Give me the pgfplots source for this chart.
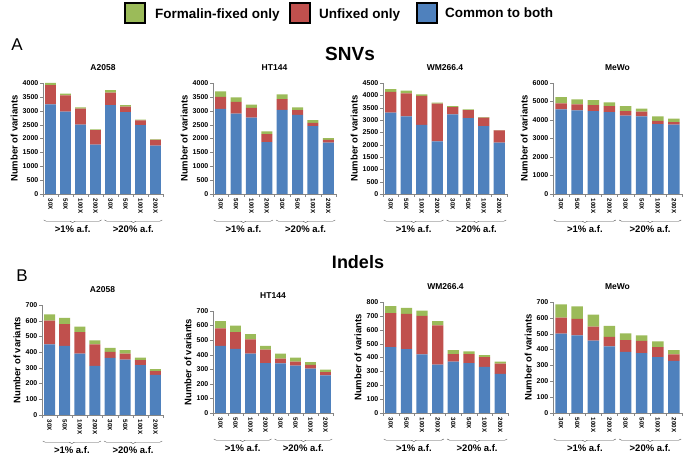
\documentclass[border=0pt]{standalone}
\usepackage{fontspec}
\setmainfont{Liberation Sans}
\usepackage{pgfplots}
\usepackage{pgfplotstable}
\pgfplotsset{compat=1.18}
\usetikzlibrary{decorations.pathreplacing}
\definecolor{cBlue}{HTML}{4F81BD}
\definecolor{cRed}{HTML}{C0504D}
\definecolor{cGreen}{HTML}{9BBB59}
\definecolor{axgray}{HTML}{868686}

% columns: x, common (blue), unfixed only (red), formalin-fixed only (green)
\pgfplotstableread{
x b r g
0 3230 690 80
1 2970 580 70
2 2500 580 40
3 1780 520 30
4 3200 450 90
5 2950 200 50
6 2480 170 30
7 1740 210 20
}\snvA
\pgfplotstableread{
x b r g
0 3070 430 200
1 2900 420 160
2 2750 350 120
3 1870 290 100
4 3030 390 170
5 2850 170 100
6 2450 110 100
7 1850 100 60
}\snvB
\pgfplotstableread{
x b r g
0 3300 840 110
1 3150 930 110
2 2800 1180 60
3 2130 1530 40
4 3230 290 40
5 3080 320 30
6 2750 350 20
7 2080 500 10
}\snvC
\pgfplotstableread{
x b r g
0 4570 330 330
1 4520 330 270
2 4480 320 280
3 4420 330 200
4 4230 250 270
5 4200 250 170
6 3780 170 250
7 3750 130 200
}\snvD
\pgfplotstableread{
x b r g
0 450 150 40
1 440 138 40
2 390 138 35
3 312 138 25
4 363 39 25
5 352 38 23
6 318 32 15
7 255 25 12
}\indA
\pgfplotstableread{
x b r g
0 460 120 50
1 440 115 45
2 408 97 37
3 342 93 25
4 340 33 35
5 325 28 27
6 305 25 20
7 258 22 18
}\indB
\pgfplotstableread{
x b r g
0 475 245 50
1 460 255 43
2 422 278 37
3 348 284 31
4 370 55 28
5 360 65 20
6 332 70 16
7 282 73 15
}\indC
\pgfplotstableread{
x b r g
0 500 102 83
1 490 103 79
2 457 88 75
3 420 60 70
4 385 75 42
5 378 77 35
6 352 63 37
7 328 42 27
}\indD

\newcommand{\grpfont}{\fontsize{9.5}{11}\selectfont\bfseries}

\pgfplotsset{panel/.style={
  scale only axis, anchor=south west,
  ybar stacked, bar width=0.72,
  xmin=-0.5, xmax=7.5, ymin=0,
  xtick={0,...,7}, xticklabels={30X,50X,100X,200X,30X,50X,100X,200X},
  minor xtick={-0.5,0.5,...,7.5},
  major x tick style={draw=none},
  minor tick length=3pt, major tick length=3pt,
  tick align=outside,
  axis x line*=bottom, axis y line*=left,
  axis line style={axgray},
  every tick/.append style={axgray},
  x tick label style={rotate=-90, anchor=west, font=\fontsize{6.2}{7}\selectfont\bfseries, inner sep=1.5pt},
  y tick label style={font=\fontsize{7}{8}\selectfont\bfseries, inner sep=1.5pt},
  /pgf/number format/assume math mode=true,
  scaled y ticks=false, /pgf/number format/1000 sep={},
  ylabel={Number of variants},
  ylabel style={font=\fontsize{9.5}{11}\selectfont\bfseries},
  title style={font=\fontsize{8.5}{10}\selectfont\bfseries, yshift=3pt},
  clip=false,
}}

\newcommand{\panel}[8]{%
\begin{axis}[panel, at={(#1pt,#2pt)}, width=#3pt, height=#4pt, ymax=#5, ytick distance=#6, title={#7}]
\addplot[fill=cBlue, draw=none] table[x=x,y=b]{#8};
\addplot[fill=cRed, draw=none] table[x=x,y=r]{#8};
\addplot[fill=cGreen, draw=none] table[x=x,y=g]{#8};
\draw[black!70, decorate, decoration={brace,mirror,amplitude=2.5pt}]
  ([yshift=-26pt]axis cs:-0.45,0) -- ([yshift=-26pt]axis cs:3.4,0)
  node[midway, below=2pt, text=black, font=\grpfont]{{>}1\% a.f.};
\draw[black!70, decorate, decoration={brace,mirror,amplitude=2.5pt}]
  ([yshift=-26pt]axis cs:3.6,0) -- ([yshift=-26pt]axis cs:7.45,0)
  node[midway, below=2pt, text=black, font=\grpfont]{{>}20\% a.f.};
\end{axis}}

\begin{document}
\begin{tikzpicture}
\path[use as bounding box] (0,0) rectangle (685pt,460pt);

% legend
\draw[fill=cGreen, line width=1.2pt] (125pt,437pt) rectangle (145pt,457pt);
\node[anchor=west, inner sep=0pt, font=\fontsize{13.5}{15}\selectfont\bfseries] at (155pt,445pt) {Formalin-fixed only};
\draw[fill=cRed, line width=1.2pt] (290pt,437pt) rectangle (310pt,457pt);
\node[anchor=west, inner sep=0pt, font=\fontsize{13.5}{15}\selectfont\bfseries] at (319pt,445pt) {Unfixed only};
\draw[fill=cBlue, line width=1.2pt] (417pt,437pt) rectangle (437pt,457pt);
\node[anchor=west, inner sep=0pt, font=\fontsize{13.5}{15}\selectfont\bfseries] at (445pt,447pt) {Common to both};

\node[font=\fontsize{17}{19}\selectfont] at (17pt,415pt) {A};
\node[font=\fontsize{19}{21}\selectfont\bfseries] at (350pt,406pt) {SNVs};
\node[font=\fontsize{17}{19}\selectfont] at (22pt,184pt) {B};
\node[font=\fontsize{18}{20}\selectfont\bfseries] at (358pt,198pt) {Indels};

\panel{43}{266}{120}{111}{4000}{500}{A2058}{\snvA}
\panel{213}{266}{123}{111}{4000}{500}{HT144}{\snvB}
\panel{383}{266}{124}{111}{4500}{500}{WM266.4}{\snvC}
\panel{553}{266}{129}{111}{6000}{1000}{MeWo}{\snvD}

\panel{42}{45}{121}{110}{700}{100}{A2058}{\indA}
\panel{213}{47}{120}{102}{700}{100}{HT144}{\indB}
\panel{383}{47}{125}{111}{800}{100}{WM266.4}{\indC}
\panel{553}{47}{129}{111}{700}{100}{MeWo}{\indD}
\end{tikzpicture}
\end{document}
